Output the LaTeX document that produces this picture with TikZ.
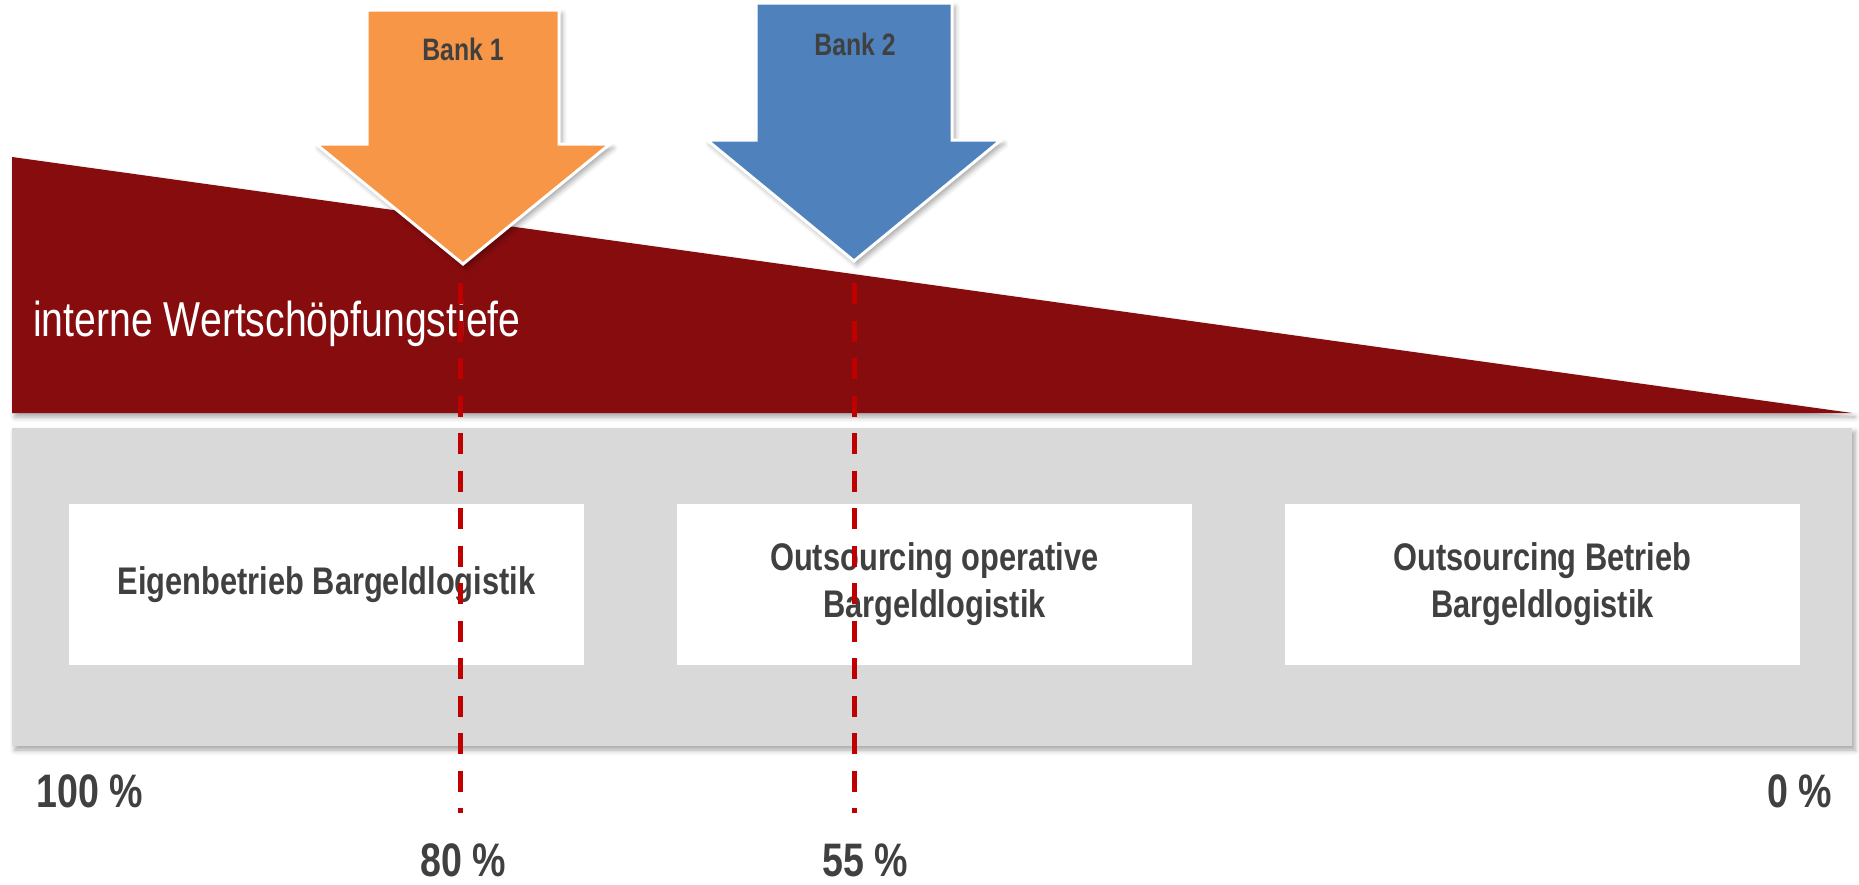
\documentclass[tikz,border=0pt]{standalone}
\usepackage{fontspec}
\setmainfont{Liberation Sans}
\newfontfamily\narrowfont{Liberation Sans}[FakeStretch=0.8]
\usetikzlibrary{shadows.blur}

\definecolor{wsred}{HTML}{870C0E}
\definecolor{panelgray}{HTML}{D9D9D9}
\definecolor{bankorange}{HTML}{F79646}
\definecolor{bankblue}{HTML}{4F81BD}
\definecolor{labelgray}{HTML}{404040}
\definecolor{markred}{HTML}{C00000}

\tikzset{
  softshadow/.style={blur shadow={shadow xshift=3pt, shadow yshift=-4pt,
      shadow blur radius=5pt, shadow opacity=35}},
  bankarrow/.style={draw=white, line width=3pt, line join=miter, softshadow},
  stagebox/.style={fill=white, minimum width=515pt, minimum height=161pt,
      inner sep=0pt, align=center, text=labelgray,
      font=\narrowfont\bfseries\fontsize{38.5}{47}\selectfont},
  banklabel/.style={text=labelgray, inner sep=0pt,
      font=\narrowfont\bfseries\fontsize{31}{36}\selectfont},
  pctlabel/.style={text=labelgray, inner sep=0pt,
      font=\narrowfont\bfseries\fontsize{47}{52}\selectfont},
  markline/.style={draw=markred, line width=5pt,
      dash pattern=on 21pt off 16.5pt},
  markshadow/.style={draw=black, opacity=0.18, line width=5pt,
      dash pattern=on 21pt off 16.5pt},
}

\begin{document}
\begin{tikzpicture}[x=1pt, y=-1pt]
  \useasboundingbox (0,0) rectangle (1859,884);

  % falling wedge: internal value-added depth
  \fill[wsred, softshadow] (12,157) -- (12,413) -- (1852,413) -- cycle;
  \node[anchor=base west, inner sep=0pt, text=white,
        font=\narrowfont\fontsize{49}{56}\selectfont] (depth) at (33,336)
        {interne Wertschöpfungstiefe};

  % grey band holding the three operating models
  \fill[panelgray, softshadow] (12,428) rectangle (1852,746);
  \node[stagebox] (own)  at (326.5,584.5) {Eigenbetrieb Bargeldlogistik};
  \node[stagebox] (ops)  at (934.5,584.5) {Outsourcing operative\\Bargeldlogistik};
  \node[stagebox] (full) at (1542.5,584.5) {Outsourcing Betrieb\\Bargeldlogistik};

  % position markers of the two banks
  \coordinate (m1top) at (460,283);
  \coordinate (m1bot) at (460,813);
  \coordinate (m2top) at (854,283);
  \coordinate (m2bot) at (854,813);
  \draw[markshadow, xshift=2pt, yshift=-2pt] (m1top) -- (m1bot);
  \draw[markshadow, xshift=2pt, yshift=-2pt] (m2top) -- (m2bot);
  \draw[markline] (m1top) -- (m1bot);
  \draw[markline] (m2top) -- (m2bot);

  % Bank 1 arrow
  \filldraw[bankarrow, fill=bankorange]
    (367,10) -- (559,10) -- (559,144) -- (610,144) -- (463,264)
    -- (316,144) -- (367,144) -- cycle;
  \node[banklabel, anchor=base] (bank1) at (463,60) {Bank 1};

  % Bank 2 arrow
  \filldraw[bankarrow, fill=bankblue]
    (756,3) -- (952,3) -- (952,140) -- (1001,140) -- (854,261)
    -- (707,140) -- (756,140) -- cycle;
  \node[banklabel, anchor=base] (bank2) at (855,55) {Bank 2};

  % scale labels
  \node[pctlabel, anchor=base west] (p100) at (36,807) {100 \%};
  \node[pctlabel, anchor=base east] (p0) at (1832,807) {0 \%};
  \node[pctlabel, anchor=base] (p80) at (463,876) {80 \%};
  \node[pctlabel, anchor=base] (p55) at (865,876) {55 \%};
\end{tikzpicture}
\end{document}
